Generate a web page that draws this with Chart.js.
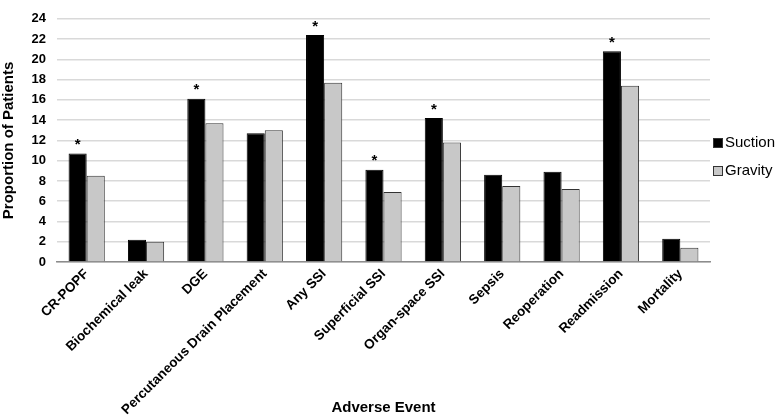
<!DOCTYPE html>
<html>
<head>
<meta charset="utf-8">
<script src="https://cdn.jsdelivr.net/npm/chart.js@4/dist/chart.umd.min.js"></script>
<style>
  html, body { margin: 0; padding: 0; background: #fff; }
  #wrap { width: 775px; height: 420px; }
</style>
</head>
<body>
<div id="wrap"><canvas id="chart"></canvas></div>
<script>
const categories = ['CR-POPF', 'Biochemical leak', 'DGE', 'Percutaneous Drain Placement', 'Any SSI',
  'Superficial SSI', 'Organ-space SSI', 'Sepsis', 'Reoperation', 'Readmission', 'Mortality'];
const suction = [10.7, 2.2, 16.1, 12.7, 22.4, 9.1, 14.2, 8.6, 8.9, 20.8, 2.3];
const gravity = [8.5, 2.0, 13.7, 13.0, 17.7, 6.9, 11.8, 7.5, 7.2, 17.4, 1.4];
const significant = [true, false, true, false, true, true, true, false, false, true, false];
const yTicks = [0, 2, 4, 6, 8, 10, 12, 14, 16, 18, 20, 22, 24];

const FONT = 'Liberation Sans, Arial, Helvetica, sans-serif';

// asterisks over the significant suction bars + custom legend on the right
const extras = {
  id: 'extras',
  afterDatasetsDraw(chart) {
    const ctx = chart.ctx;
    const meta = chart.getDatasetMeta(0);
    ctx.save();
    ctx.fillStyle = '#000';
    ctx.font = 'bold 15px ' + FONT;
    ctx.textAlign = 'center';
    ctx.textBaseline = 'bottom';
    meta.data.forEach((bar, i) => {
      if (significant[i]) ctx.fillText('*', bar.x, bar.y - 1);
    });

    // legend
    const items = [
      { label: 'Suction', fill: '#000' },
      { label: 'Gravity', fill: '#c8c8c8' }
    ];
    const x0 = chart.chartArea.right + 3;
    ctx.font = '15px ' + FONT;
    ctx.textAlign = 'left';
    ctx.textBaseline = 'middle';
    items.forEach((it, k) => {
      const y = 143 + k * 28;
      ctx.fillStyle = it.fill;
      ctx.fillRect(x0, y - 5, 10, 10);
      ctx.strokeStyle = '#333';
      ctx.lineWidth = 1;
      ctx.strokeRect(x0 + 0.5, y - 4.5, 9, 9);
      ctx.fillStyle = '#000';
      ctx.fillText(it.label, x0 + 12, y);
    });
    ctx.restore();
  }
};

new Chart(document.getElementById('chart'), {
  type: 'bar',
  data: {
    labels: categories,
    datasets: [{
      label: 'Suction',
      data: suction,
      backgroundColor: '#000',
      borderColor: '#000',
      borderWidth: 1
    }, {
      label: 'Gravity',
      data: gravity,
      backgroundColor: '#c8c8c8',
      borderColor: '#333',
      borderWidth: 1
    }]
  },
  options: {
    responsive: true,
    maintainAspectRatio: false,
    animation: false,
    layout: { padding: { left: 0, right: 65, top: 5, bottom: 0 } },
    plugins: {
      legend: { display: false },
      tooltip: { enabled: false }
    },
    datasets: {
      bar: { categoryPercentage: 0.61, barPercentage: 1 }
    },
    scales: {
      x: {
        afterFit(scale) { scale.height = 158; },
        grid: { display: false, drawTicks: false },
        border: { color: '#8c8c8c', width: 1.5 },
        ticks: {
          color: '#000',
          font: { family: FONT, size: 13.5, weight: 'bold' },
          maxRotation: 45,
          minRotation: 45,
          autoSkip: false,
          padding: 4
        },
        title: {
          display: true,
          text: 'Adverse Event',
          color: '#000',
          font: { family: FONT, size: 15, weight: 'bold' },
          padding: { top: 0, bottom: 3 }
        }
      },
      y: {
        min: 0,
        max: 24,
        afterFit(scale) { scale.width = 57; },
        afterBuildTicks(axis) { axis.ticks = yTicks.map(v => ({ value: v })); },
        grid: { color: '#d9d9d9', lineWidth: 1.5, drawTicks: false },
        border: { display: false },
        ticks: {
          color: '#000',
          font: { family: FONT, size: 13, weight: 'bold' },
          padding: 11
        },
        title: {
          display: true,
          text: 'Proportion of Patients',
          color: '#000',
          font: { family: FONT, size: 15, weight: 'bold' },
          padding: { top: 0, bottom: 0 }
        }
      }
    }
  },
  plugins: [extras]
});
</script>
</body>
</html>
